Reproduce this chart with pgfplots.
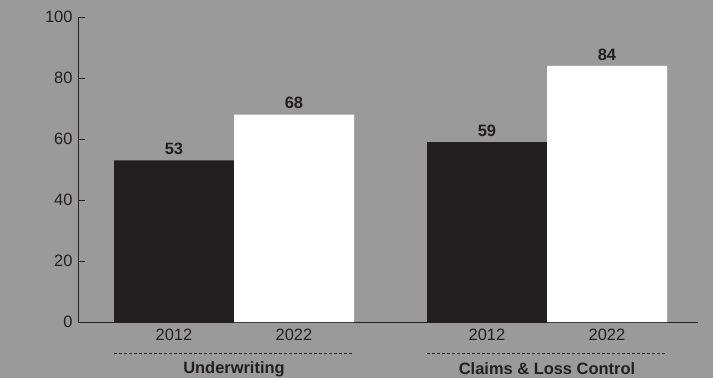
\documentclass[border=0pt]{standalone}
\usepackage{fontspec}
\setmainfont{Liberation Sans}
\usepackage{pgfplots}
\pgfplotsset{compat=1.18}
\definecolor{bg}{RGB}{154,154,154}
\definecolor{dark}{RGB}{35,31,32}
\begin{document}
\begin{tikzpicture}
\fill[bg] (0,0) rectangle (713bp,378bp);
\begin{axis}[
  at={(78bp,56bp)}, anchor=south west,
  scale only axis, width=620bp, height=305bp,
  xmin=0, xmax=620, ymin=0, ymax=100,
  axis lines=left,
  axis line style={-, draw=dark, line width=0.9bp},
  ytick={0,20,40,60,80,100},
  xtick={96,216,409,529},
  xticklabels={2012,2022,2012,2022},
  x tick style={draw=none},
  y tick style={draw=dark, line width=0.9bp},
  tick align=inside,
  major tick length=7bp,
  ticklabel style={font=\fontsize{16.5}{19}\selectfont, text=dark},
  /pgf/number format/assume math mode=true,
  yticklabel style={xshift=-2bp},
  xticklabel style={yshift=-3bp},
  clip=false,
  nodes near coords,
  every node near coord/.append style={font=\fontsize{16.5}{19}\selectfont\bfseries, text=dark, yshift=2bp},
]
\addplot[ybar, bar width=120, bar shift=0pt, fill=dark, draw=none] coordinates {(96,53) (409,59)};
\addplot[ybar, bar width=120, bar shift=0pt, fill=white, draw=none] coordinates {(216,68) (529,84)};
\draw[dark, line width=0.8bp, dash pattern=on 3bp off 2bp] ([yshift=-31bp]axis cs:36,0) -- ([yshift=-31bp]axis cs:276,0);
\draw[dark, line width=0.8bp, dash pattern=on 3bp off 2bp] ([yshift=-31bp]axis cs:349,0) -- ([yshift=-31bp]axis cs:589,0);
\node[font=\fontsize{16.5}{19}\selectfont\bfseries, text=dark] at ([yshift=-47bp]axis cs:156,0) {Underwriting};
\node[font=\fontsize{16.5}{19}\selectfont\bfseries, text=dark] at ([yshift=-47bp]axis cs:469,0) {Claims \& Loss Control};
\end{axis}
\end{tikzpicture}
\end{document}
